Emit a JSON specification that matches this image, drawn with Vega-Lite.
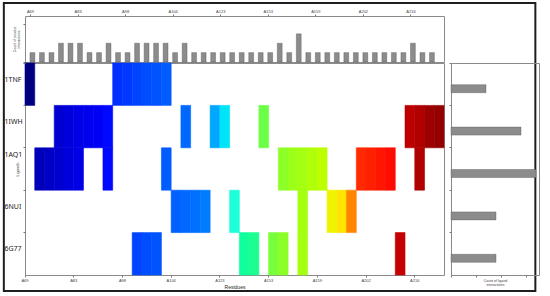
{
  "$schema": "https://vega.github.io/schema/vega-lite/v6.json",
  "padding": {"left": 2, "top": 1, "right": 0, "bottom": 0},
  "background": "white",
  "datasets": {
    "cells": [
      {"lig": "1TNF", "col": 0}, {"lig": "1TNF", "col": 9}, {"lig": "1TNF", "col": 10}, {"lig": "1TNF", "col": 11}, {"lig": "1TNF", "col": 12}, {"lig": "1TNF", "col": 13}, {"lig": "1TNF", "col": 14},
      {"lig": "1IWH", "col": 3}, {"lig": "1IWH", "col": 4}, {"lig": "1IWH", "col": 5}, {"lig": "1IWH", "col": 6}, {"lig": "1IWH", "col": 7}, {"lig": "1IWH", "col": 8}, {"lig": "1IWH", "col": 16}, {"lig": "1IWH", "col": 19}, {"lig": "1IWH", "col": 20}, {"lig": "1IWH", "col": 24}, {"lig": "1IWH", "col": 39}, {"lig": "1IWH", "col": 40}, {"lig": "1IWH", "col": 41}, {"lig": "1IWH", "col": 42},
      {"lig": "1AQ1", "col": 1}, {"lig": "1AQ1", "col": 2}, {"lig": "1AQ1", "col": 3}, {"lig": "1AQ1", "col": 4}, {"lig": "1AQ1", "col": 5}, {"lig": "1AQ1", "col": 8}, {"lig": "1AQ1", "col": 14}, {"lig": "1AQ1", "col": 26}, {"lig": "1AQ1", "col": 27}, {"lig": "1AQ1", "col": 28}, {"lig": "1AQ1", "col": 29}, {"lig": "1AQ1", "col": 30}, {"lig": "1AQ1", "col": 34}, {"lig": "1AQ1", "col": 35}, {"lig": "1AQ1", "col": 36}, {"lig": "1AQ1", "col": 37}, {"lig": "1AQ1", "col": 40},
      {"lig": "6NUI", "col": 15}, {"lig": "6NUI", "col": 16}, {"lig": "6NUI", "col": 17}, {"lig": "6NUI", "col": 18}, {"lig": "6NUI", "col": 21}, {"lig": "6NUI", "col": 28}, {"lig": "6NUI", "col": 31}, {"lig": "6NUI", "col": 32}, {"lig": "6NUI", "col": 33},
      {"lig": "6G77", "col": 11}, {"lig": "6G77", "col": 12}, {"lig": "6G77", "col": 13}, {"lig": "6G77", "col": 22}, {"lig": "6G77", "col": 23}, {"lig": "6G77", "col": 25}, {"lig": "6G77", "col": 26}, {"lig": "6G77", "col": 28}, {"lig": "6G77", "col": 38}
    ]
  },
  "config": {
    "font": "Liberation Sans",
    "view": {"stroke": "#8a8a8a", "strokeWidth": 1},
    "axis": {
      "domain": false,
      "grid": false,
      "labelFontSize": 4,
      "labelColor": "#444",
      "tickColor": "#777",
      "tickSize": 2,
      "titleFontSize": 4,
      "titleFontWeight": "normal",
      "titleColor": "#444"
    }
  },
  "bounds": "flush",
  "columns": 2,
  "spacing": {"row": 1, "column": 7},
  "concat": [
    {
      "width": 419,
      "height": 46,
      "data": {"name": "cells"},
      "layer": [
        {
          "mark": {"type": "bar", "width": 4.87, "xOffset": 2.43, "fill": "#8c8c8c", "stroke": "#555", "strokeWidth": 0.4},
          "encoding": {
            "x": {
              "field": "col", "type": "quantitative",
              "scale": {"domain": [0, 43], "nice": false, "zero": false},
              "axis": {
                "orient": "top", "values": [0, 5, 10, 15, 20, 25, 30, 35, 40],
                "labelExpr": "['A69','A83','A98','A104','A123','A153','A159','A202','A216'][datum.value/5]",
                "labelPadding": 1, "title": null
              }
            },
            "y": {
              "aggregate": "count", "type": "quantitative",
              "scale": {"domain": [0, 4.9], "nice": false},
              "axis": {"values": [0, 1, 2, 3, 4], "labels": false, "title": ["Count of residue", "interactions"], "titleFontSize": 3.5, "titlePadding": 2, "titleLineHeight": 4}
            }
          }
        },
        {
          "data": {"values": [{}]},
          "mark": {"type": "rect", "fill": "transparent", "stroke": "#1e1e1e", "strokeWidth": 2, "clip": false},
          "encoding": {
            "x": {"datum": -2.75, "type": "quantitative"},
            "x2": {"datum": 53.13},
            "y": {"datum": 6.285, "type": "quantitative"},
            "y2": {"datum": -24.393}
          }
        }
      ]
    },
    {
      "width": 88,
      "height": 46,
      "data": {"values": [{}]},
      "mark": {"type": "point", "opacity": 0},
      "encoding": {},
      "view": {"stroke": null}
    },
    {
      "width": 419,
      "height": 212,
      "data": {"name": "cells"},
      "mark": {"type": "rect", "strokeWidth": 0.6},
      "encoding": {
        "x": {
          "field": "col", "type": "ordinal",
          "scale": {"domain": [0,1,2,3,4,5,6,7,8,9,10,11,12,13,14,15,16,17,18,19,20,21,22,23,24,25,26,27,28,29,30,31,32,33,34,35,36,37,38,39,40,41,42], "paddingInner": 0, "paddingOuter": 0},
          "axis": {
            "values": [0, 5, 10, 15, 20, 25, 30, 35, 40], "bandPosition": 0, "labelAngle": 0, "labelOffset": -4.87,
            "labelExpr": "['A69','A83','A98','A104','A123','A153','A159','A202','A216'][datum.value/5]",
            "labelPadding": 1, "title": "Residues", "titleFontSize": 5, "titleColor": "#222", "titlePadding": 2
          }
        },
        "y": {
          "field": "lig", "type": "nominal",
          "scale": {"domain": ["1TNF", "1IWH", "1AQ1", "6NUI", "6G77"], "paddingInner": 0, "paddingOuter": 0},
          "axis": {
            "bandPosition": 0, "labelFontSize": 7, "labelColor": "#222", "labelFont": "Noto Sans",
            "labelAlign": "left", "labelBaseline": "middle", "labelPadding": 19,
            "labelOffset": {"condition": {"test": "datum.label == '1AQ1'", "value": -14}, "value": -4.5},
            "title": "Ligands", "titleX": -8, "titleY": 106, "titleAngle": -90, "titleAlign": "center", "titleBaseline": "middle", "titleFontSize": 4
          }
        },
        "color": {
          "field": "col", "type": "ordinal", "legend": null,
          "scale": {
            "domain": [0,1,2,3,4,5,6,7,8,9,10,11,12,13,14,15,16,17,18,19,20,21,22,23,24,25,26,27,28,29,30,31,32,33,34,35,36,37,38,39,40,41,42],
            "range": ["#00007f","#0000b8","#0000c4","#0000d0","#0000dc","#0000e6","#0000ee","#0000f6","#0008ff","#0030ff","#0038ff","#0044ff","#004cff","#0054ff","#005cff","#0060ff","#0068ff","#0070ff","#007cff","#00a8ff","#00e4f8","#1cffd8","#10ff9c","#1cff90","#6cff48","#78ff3c","#8cff28","#9cff18","#a4ff10","#b0ff08","#bcff00","#eef400","#ffe400","#ff8400","#ff2a00","#ff2000","#ff1600","#ff0c00","#c40000","#bc0000","#b00000","#9c0000","#940000"]
          }
        },
        "stroke": {
          "field": "col", "type": "ordinal", "legend": null,
          "scale": {
            "domain": [0,1,2,3,4,5,6,7,8,9,10,11,12,13,14,15,16,17,18,19,20,21,22,23,24,25,26,27,28,29,30,31,32,33,34,35,36,37,38,39,40,41,42],
            "range": ["#00007f","#0000b8","#0000c4","#0000d0","#0000dc","#0000e6","#0000ee","#0000f6","#0008ff","#0030ff","#0038ff","#0044ff","#004cff","#0054ff","#005cff","#0060ff","#0068ff","#0070ff","#007cff","#00a8ff","#00e4f8","#1cffd8","#10ff9c","#1cff90","#6cff48","#78ff3c","#8cff28","#9cff18","#a4ff10","#b0ff08","#bcff00","#eef400","#ffe400","#ff8400","#ff2a00","#ff2000","#ff1600","#ff0c00","#c40000","#bc0000","#b00000","#9c0000","#940000"]
          }
        }
      }
    },
    {
      "width": 88,
      "height": 212,
      "data": {"name": "cells"},
      "mark": {"type": "bar", "height": 8, "yOffset": 4.5, "fill": "#8c8c8c", "stroke": "#555", "strokeWidth": 0.4},
      "encoding": {
        "y": {
          "field": "lig", "type": "nominal",
          "scale": {"domain": ["1TNF", "1IWH", "1AQ1", "6NUI", "6G77"], "paddingInner": 0, "paddingOuter": 0},
          "axis": {"bandPosition": 0, "labels": false, "title": null}
        },
        "x": {
          "aggregate": "count", "type": "quantitative",
          "scale": {"domain": [0, 17.6], "nice": false},
          "axis": {"values": [0, 5, 10, 15], "labels": false, "title": ["Count of ligand", "interactions"], "titleFontSize": 3.5, "titlePadding": 1, "titleLineHeight": 4}
        }
      }
    }
  ]
}
